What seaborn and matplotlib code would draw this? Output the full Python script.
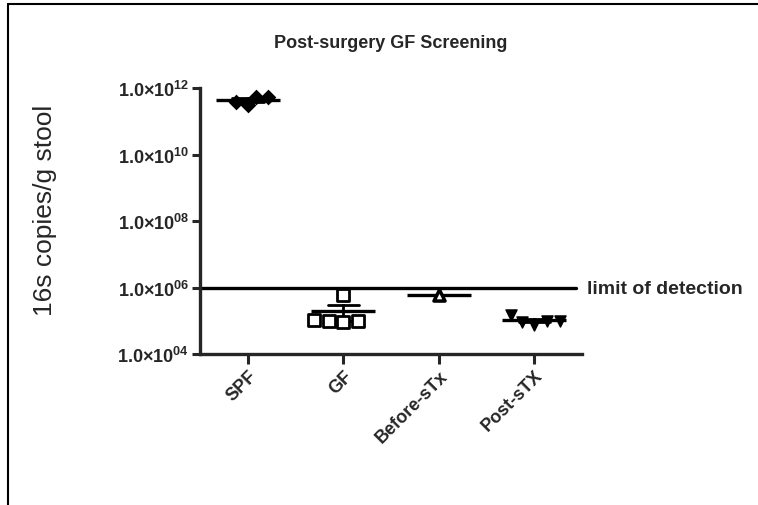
import numpy as np
import pandas as pd
import seaborn as sns
import matplotlib.pyplot as plt
from matplotlib.lines import Line2D
from matplotlib.ticker import FixedLocator, FuncFormatter

categories = ['SPF', 'GF', 'Before-sTx', 'Post-sTX']
spf = [5.5e11, 3.2e11, 3.8e11, 5.5e11]
gf = [6.0e5, 1.0e5, 0.9e5, 1.1e5, 1.0e5]
before_stx = [6.0e5]
post_stx = [0.75e5, 0.95e5, 1.0e5, 1.0e5, 1.5e5]
detection_limit = 9.5e5
y_ticks = [1e4, 1e6, 1e8, 1e10, 1e12]

groups = {'SPF': spf, 'GF': gf, 'Before-sTx': before_stx, 'Post-sTX': post_stx}
df = pd.concat([pd.DataFrame({'group': k, 'copies': v}) for k, v in groups.items()],
               ignore_index=True)

sns.set_style('ticks')
plt.rcParams['font.family'] = ['Liberation Sans', 'DejaVu Sans']
plt.rcParams['mathtext.fontset'] = 'custom'
plt.rcParams['mathtext.rm'] = 'Liberation Sans'
plt.rcParams['mathtext.bf'] = 'Liberation Sans:bold'

fig = plt.figure(figsize=(7.58, 5.06), dpi=100)
ax = fig.add_axes([0.264, 0.298, 0.504, 0.526])

# mean +/- SEM, computed on linear values (before switching to log axis)
sns.pointplot(data=df, x='group', y='copies', order=categories, color='black',
              estimator='mean', errorbar='se', capsize=0.33, linestyle='none',
              markers='_', markersize=46, markeredgewidth=2.4,
              err_kws={'linewidth': 2.0}, ax=ax)

ax.set_yscale('log')

styles = {
    'SPF': dict(marker='D', color='black'),
    'GF': dict(marker='s', color='white', edgecolor='black', linewidth=2),
    'Before-sTx': dict(marker='^', color='white', edgecolor='black', linewidth=2.5),
    'Post-sTX': dict(marker='v', color='black', edgecolor='black', linewidth=1),
}
for name in categories:
    sub = df[df['group'] == name]
    sns.swarmplot(data=sub, x='group', y='copies', order=categories, size=8,
                  ax=ax, zorder=3, **styles[name])

ax.set_xlim(-0.5, 3.5)
ax.set_ylim(1e4, 1e12)
ax.axhline(detection_limit, xmin=0, xmax=0.985, color='black', linewidth=2.4,
           clip_on=False)
ax.text(3.55, detection_limit, 'limit of detection', fontsize=14, fontweight='bold',
        va='center', ha='left')

ax.yaxis.set_major_locator(FixedLocator(y_ticks))
ax.yaxis.set_minor_locator(FixedLocator([]))
ax.yaxis.set_major_formatter(FuncFormatter(
    lambda v, p: '1.0×10$^{\\mathbf{%02d}}$' % round(np.log10(v))))
ax.tick_params(axis='y', labelsize=13, width=2.2, length=6, pad=2)
ax.tick_params(axis='x', labelsize=13, width=2.2, length=7, pad=2)
for lab in ax.get_yticklabels():
    lab.set_fontweight('bold')
for lab in ax.get_xticklabels():
    lab.set_rotation(45)
    lab.set_ha('right')
    lab.set_rotation_mode('anchor')
    lab.set_fontweight('bold')

sns.despine(ax=ax)
for s in ['left', 'bottom']:
    ax.spines[s].set_linewidth(2.4)

ax.set_xlabel('')
ax.set_ylabel('')
fig.text(0.06, 0.585, '16s copies/g stool', rotation=90, fontsize=19,
         va='center', ha='center')
fig.text(0.515, 0.915, 'Post-surgery GF Screening', fontsize=13, fontweight='bold',
         ha='center', va='center')

fig.add_artist(Line2D([0.011, 0.011], [0, 0.99], color='black', linewidth=1.5))
fig.add_artist(Line2D([0.011, 1], [0.99, 0.99], color='black', linewidth=1.5))

fig.savefig('out.png', dpi=100)
